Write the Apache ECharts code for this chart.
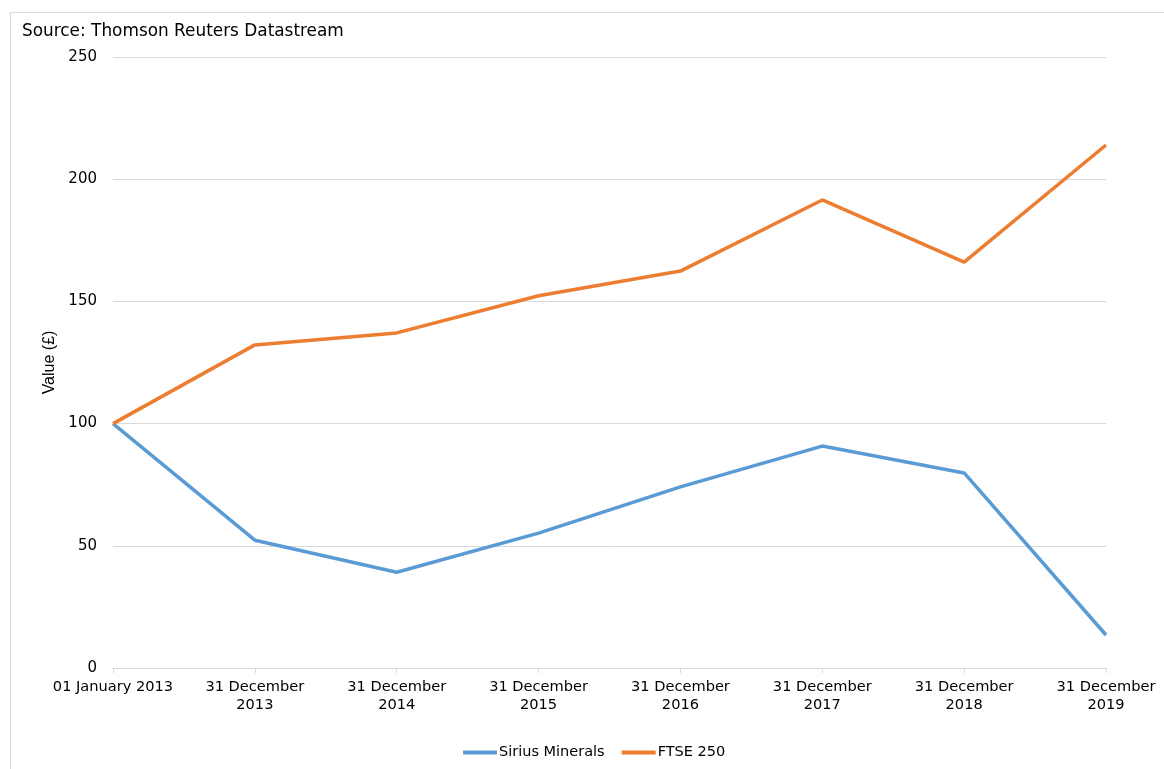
<!DOCTYPE html>
<html>
<head>
<meta charset="utf-8">
<script src="https://cdn.jsdelivr.net/npm/echarts@6/dist/echarts.min.js"></script>
<style>
  html, body { margin: 0; padding: 0; background: #fff; }
  #frame { position: absolute; left: 10px; top: 12px; width: 1200px; height: 800px;
           border-top: 1px solid #d9d9d9; border-left: 1px solid #d9d9d9; }
  #chart { position: absolute; left: 0; top: 0; width: 1164px; height: 769px; }
</style>
</head>
<body>
<div id="frame"></div>
<div id="chart"></div>
<script>
var dates = ['01 January 2013', '31 December\n2013', '31 December\n2014', '31 December\n2015',
             '31 December\n2016', '31 December\n2017', '31 December\n2018', '31 December\n2019']
var sirius = [100, 52.3, 39.2, 55.2, 74.1, 90.8, 79.8, 13.5]
var ftse = [100, 132.2, 137.1, 152.3, 162.4, 191.5, 166.1, 214.0]

var font = 'DejaVu Sans, Verdana, sans-serif'
var myChart = echarts.init(document.getElementById('chart'))
var option = {
    animation: false,
    title: {
        text: 'Source: Thomson Reuters Datastream',
        left: 17, top: 18,
        textStyle: { fontFamily: font, fontSize: 16.9, fontWeight: 'normal', color: '#000' }
    },
    legend: {
        bottom: 4, left: 458,
        itemWidth: 34, itemHeight: 4, itemGap: 17,
        icon: 'rect',
        textStyle: { fontFamily: font, fontSize: 14.5, color: '#000', padding: [0, 0, 0, -3] },
        data: ['Sirius Minerals', 'FTSE 250']
    },
    grid: { left: 113, right: 58, top: 57, bottom: 101, containLabel: false },
    xAxis: {
        type: 'category',
        data: dates,
        boundaryGap: false,
        axisLine: { lineStyle: { color: '#d9d9d9' } },
        axisTick: { lineStyle: { color: '#d9d9d9' }, length: 5 },
        axisLabel: { fontFamily: font, fontSize: 14.6, color: '#000', margin: 10, lineHeight: 18, interval: 0 }
    },
    yAxis: {
        type: 'value',
        min: 0, max: 250, interval: 50,
        name: 'Value (£)',
        nameLocation: 'middle',
        nameGap: 47,
        nameTextStyle: { fontFamily: 'Liberation Sans, Arial, sans-serif', fontSize: 16, color: '#000' },
        axisLine: { show: false },
        axisTick: { show: false },
        splitLine: { lineStyle: { color: '#d9d9d9' } },
        axisLabel: { fontFamily: font, fontSize: 15, color: '#000', margin: 16 }
    },
    series: [{
        name: 'Sirius Minerals',
        type: 'line',
        data: sirius,
        symbol: 'none',
        lineStyle: { color: '#5B9BD5', width: 3.5 },
        itemStyle: { color: '#5B9BD5' }
    }, {
        name: 'FTSE 250',
        type: 'line',
        data: ftse,
        symbol: 'none',
        lineStyle: { color: '#ED7D31', width: 3.5 },
        itemStyle: { color: '#ED7D31' }
    }]
}
myChart.setOption(option);
</script>
</body>
</html>
